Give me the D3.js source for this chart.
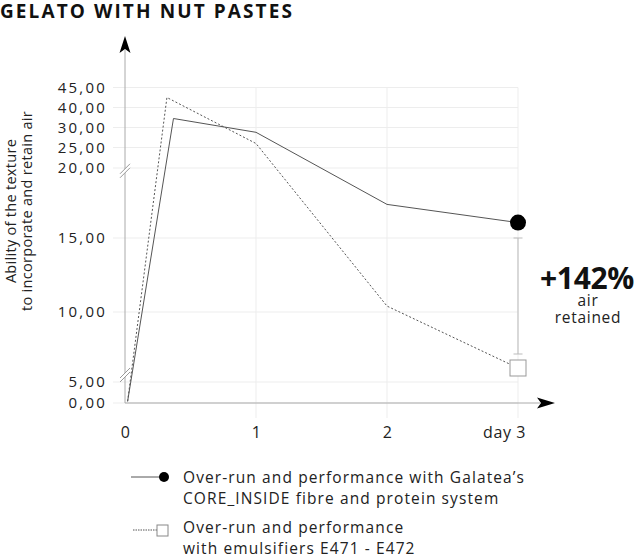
<!DOCTYPE html>
<html>
<head>
<meta charset="utf-8">
<script src="https://cdn.jsdelivr.net/npm/d3@7"></script>
<style>
    body { margin: 0; background: #fff; }
    svg { display: block; font-family: 'Open Sans', sans-serif; }
</style>
</head>
<body>
<div id="chart"></div>
<script>
const coreDays = [0.02, 0.37, 1, 2, 3];
const coreValues = [0.4, 34.5, 28.8, 17.4, 16.1];
const emulsDays = [0.02, 0.32, 1, 2, 3];
const emulsValues = [0.4, 42.5, 26.0, 10.4, 6.0];

const yTickValues = [0, 5, 10, 15, 20, 25, 30, 40, 45];
const yTickLabels = ['0,00', '5,00', '10,00', '15,00', '20,00', '25,00', '30,00', '40,00', '45,00'];
const xTickValues = [0, 1, 2, 3];
const xTickLabels = ['0', '1', '2', 'day 3'];
const yBreaks = [19.8, 5.5];
const gainRange = [15, 7];

const legendLabels = [
    ['Over-run and performance with Galatea\u2019s', 'CORE_INSIDE fibre and protein system'],
    ['Over-run and performance', 'with emulsifiers E471 - E472']
];

function renderChart() {
    const width = 640, height = 557;
    const svg = d3.select('#chart').append('svg')
        .attr('width', width)
        .attr('height', height);

    const x = d3.scaleLinear().domain([0, 3]).range([125, 518]);
    // broken axis: piecewise linear scale
    const y = d3.scaleLinear()
        .domain(yTickValues)
        .range([403, 382, 312, 238, 168, 147.5, 127.5, 107.5, 87.5]);

    svg.append('text')
        .attr('x', 0)
        .attr('y', 18)
        .style('font-size', '19px')
        .style('font-weight', 'bold')
        .style('letter-spacing', '2.1px')
        .style('fill', '#111')
        .text('GELATO WITH NUT PASTES');

    // grid
    svg.append('g').selectAll('line')
        .data(yTickValues)
        .enter().append('line')
        .attr('x1', 113).attr('x2', x(3))
        .attr('y1', d => y(d)).attr('y2', d => y(d))
        .attr('stroke', '#ededed');
    svg.append('g').selectAll('line')
        .data(xTickValues.slice(1))
        .enter().append('line')
        .attr('x1', d => x(d)).attr('x2', d => x(d))
        .attr('y1', y(45)).attr('y2', 418)
        .attr('stroke', '#ededed');

    // axes
    svg.append('g')
        .attr('transform', `translate(${x(0)},0)`)
        .call(d3.axisLeft(y).tickValues(yTickValues).tickFormat((d, i) => yTickLabels[i]).tickSize(0).tickPadding(18))
        .call(g => g.select('.domain').remove())
        .selectAll('text')
        .style('font-family', "'Open Sans', sans-serif")
        .style('font-size', '15px')
        .style('letter-spacing', '2.2px')
        .style('fill', '#222');

    svg.append('g')
        .attr('transform', `translate(0,${y(0)})`)
        .call(d3.axisBottom(x).tickValues(xTickValues).tickFormat((d, i) => xTickLabels[i]).tickSize(0).tickPadding(24))
        .call(g => g.select('.domain').remove())
        .selectAll('text')
        .style('font-family', "'Open Sans', sans-serif")
        .style('font-size', '16px')
        .style('letter-spacing', '0.6px')
        .style('fill', '#222')
        .attr('dx', (d, i) => i === xTickLabels.length - 1 ? '-14px' : null);

    svg.append('line')
        .attr('x1', x(0)).attr('x2', x(0))
        .attr('y1', y(0)).attr('y2', 50)
        .attr('stroke', '#aaa');
    svg.append('line')
        .attr('x1', x(0)).attr('x2', 540)
        .attr('y1', y(0)).attr('y2', y(0))
        .attr('stroke', '#aaa');

    svg.append('path')
        .attr('d', `M${x(0)},36 L${x(0) + 5.5},53 L${x(0)},49 L${x(0) - 5.5},53 Z`)
        .attr('fill', '#000');
    svg.append('path')
        .attr('d', `M555,${y(0)} L537,${y(0) - 5.5} L541,${y(0)} L537,${y(0) + 5.5} Z`)
        .attr('fill', '#000');

    const line = d3.line()
        .x(d => x(d[0]))
        .y(d => y(d[1]));

    svg.append('path')
        .datum(d3.zip(coreDays, coreValues))
        .attr('d', line)
        .attr('fill', 'none')
        .attr('stroke', '#555')
        .attr('stroke-width', 1);

    svg.append('path')
        .datum(d3.zip(emulsDays, emulsValues))
        .attr('d', line)
        .attr('fill', 'none')
        .attr('stroke', '#555')
        .attr('stroke-width', 1)
        .attr('stroke-dasharray', '2,2');

    // axis break marks
    yBreaks.forEach(b => {
        const cx = x(0), cy = y(b);
        svg.append('path')
            .attr('d', `M${cx - 5},${cy + 3} L${cx + 5},${cy - 7} L${cx + 5},${cy - 3} L${cx - 5},${cy + 7} Z`)
            .attr('fill', '#fff');
        svg.append('line')
            .attr('x1', cx - 5).attr('y1', cy + 3).attr('x2', cx + 5).attr('y2', cy - 7)
            .attr('stroke', '#999');
        svg.append('line')
            .attr('x1', cx - 5).attr('y1', cy + 7).attr('x2', cx + 5).attr('y2', cy - 3)
            .attr('stroke', '#999');
    });

    // gain bracket
    const gx = x(3);
    svg.append('line')
        .attr('x1', gx).attr('x2', gx)
        .attr('y1', y(gainRange[0])).attr('y2', y(gainRange[1]))
        .attr('stroke', '#bbb');
    gainRange.forEach(v => {
        svg.append('line')
            .attr('x1', gx - 4.5).attr('x2', gx + 4.5)
            .attr('y1', y(v)).attr('y2', y(v))
            .attr('stroke', '#bbb');
    });

    svg.append('circle')
        .attr('cx', x(3)).attr('cy', y(coreValues[coreValues.length - 1]))
        .attr('r', 8)
        .attr('fill', '#000');
    svg.append('rect')
        .attr('x', x(3) - 8).attr('y', y(emulsValues[emulsValues.length - 1]) - 8)
        .attr('width', 16).attr('height', 16)
        .attr('fill', '#fff')
        .attr('stroke', '#999');

    svg.append('text')
        .attr('x', 587).attr('y', 289)
        .attr('text-anchor', 'middle')
        .style('font-size', '30px')
        .style('font-weight', 'bold')
        .style('letter-spacing', '-0.3px')
        .style('fill', '#111')
        .text('+142%');
    svg.append('text')
        .attr('x', 588).attr('y', 306)
        .attr('text-anchor', 'middle')
        .style('font-size', '15.5px')
        .style('letter-spacing', '0.7px')
        .style('fill', '#222')
        .text('air');
    svg.append('text')
        .attr('x', 588).attr('y', 323)
        .attr('text-anchor', 'middle')
        .style('font-size', '15.5px')
        .style('letter-spacing', '0.7px')
        .style('fill', '#222')
        .text('retained');

    // y title
    const yTitle = svg.append('text')
        .attr('transform', 'translate(0,211) rotate(-90)')
        .attr('text-anchor', 'middle')
        .style('font-size', '14.5px')
        .style('letter-spacing', '0.3px')
        .style('fill', '#222');
    yTitle.append('tspan').attr('x', 0).attr('y', 16).text('Ability of the texture');
    yTitle.append('tspan').attr('x', 0).attr('y', 32).text('to incorporate and retain air');

    // legend
    const legend = svg.append('g');
    legend.append('line')
        .attr('x1', 131).attr('x2', 163).attr('y1', 477).attr('y2', 477)
        .attr('stroke', '#555');
    legend.append('circle')
        .attr('cx', 164).attr('cy', 477).attr('r', 5)
        .attr('fill', '#000');
    legend.append('line')
        .attr('x1', 133).attr('x2', 157).attr('y1', 530).attr('y2', 530)
        .attr('stroke', '#555')
        .attr('stroke-dasharray', '1.5,1');
    legend.append('rect')
        .attr('x', 157).attr('y', 525).attr('width', 11).attr('height', 11)
        .attr('fill', '#fff').attr('stroke', '#888');

    const legendY = [483, 533];
    legendLabels.forEach((lines, i) => {
        const t = legend.append('text')
            .style('font-size', '15.5px')
            .style('letter-spacing', '1.1px')
            .style('fill', '#222');
        lines.forEach((s, j) => {
            t.append('tspan')
                .attr('x', 183)
                .attr('y', legendY[i] + j * 20.5)
                .text(s);
        });
    });
}

document.addEventListener('DOMContentLoaded', renderChart);
</script>
</body>
</html>
